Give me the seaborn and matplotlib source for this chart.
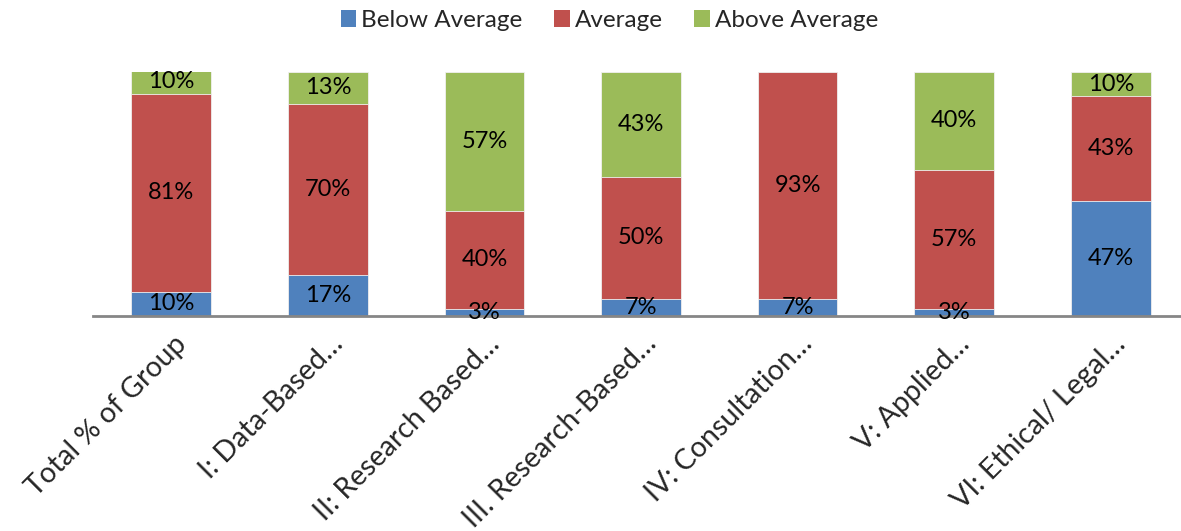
import matplotlib
matplotlib.use("Agg")
import matplotlib.pyplot as plt
from matplotlib.patches import Patch
import matplotlib.transforms as mtransforms
import numpy as np
import pandas as pd
import seaborn as sns

categories = [
    "Total % of Group",
    "I: Data-Based…",
    "II: Research Based…",
    "III. Research-Based…",
    "IV: Consultation…",
    "V: Applied…",
    "VI: Ethical/ Legal…",
]
below_avg = [10, 17, 3, 7, 7, 3, 47]
average = [81, 70, 40, 50, 93, 57, 43]
above_avg = [10, 13, 57, 43, 0, 40, 10]

series_names = ["Below Average", "Average", "Above Average"]
colors = ["#4F81BD", "#C0504D", "#9BBB59"]

sns.set_theme(style="white")
plt.rcParams["font.family"] = ["Lato", "DejaVu Sans"]

df = pd.DataFrame({
    "category": categories,
    "below": below_avg,
    "average": average,
    "above": above_avg,
})
df["cum1"] = df["below"]
df["cum2"] = df["below"] + df["average"]
df["cum3"] = df["cum2"] + df["above"]

fig = plt.figure(figsize=(11.81, 5.31), dpi=100)
W, H = 1181, 531
ax = fig.add_axes([93 / W, 215 / H, (1189 - 93) / W, 244 / H])

# stacked bars drawn back to front as cumulative totals
for col, color in zip(["cum3", "cum2", "cum1"], colors[::-1]):
    sns.barplot(data=df, x="category", y=col, color=color, width=0.51,
                saturation=1, edgecolor="#f0f0f0", linewidth=0.6, ax=ax)

# value labels at the middle of each segment
for i in range(len(categories)):
    base = 0
    for val in (below_avg[i], average[i], above_avg[i]):
        if val > 0:
            ax.text(i, base + val / 2, f"{val}%", ha="center", va="center",
                    fontsize=17, color="black", zorder=5)
        base += val

ax.set_ylim(0, 100)
ax.set_xlim(-0.5, len(categories) - 0.5)
ax.set_xlabel("")
ax.set_ylabel("")
ax.set_yticks([])
for side in ["top", "right", "left"]:
    ax.spines[side].set_visible(False)
ax.spines["bottom"].set_color("#868686")
ax.spines["bottom"].set_linewidth(2)
ax.tick_params(axis="x", length=0, pad=12)
ax.set_xticks(range(len(categories)))
ax.set_xticklabels(categories, rotation=45, ha="right", va="center",
                   rotation_mode="anchor", fontsize=20.5)
shift = mtransforms.ScaledTranslation(11 / 100, -7 / 100, fig.dpi_scale_trans)
for lbl in ax.get_xticklabels():
    lbl.set_transform(lbl.get_transform() + shift)

handles = [Patch(facecolor=c, edgecolor="none") for c in colors]
fig.legend(handles, series_names, loc="upper center", ncol=3, frameon=False,
           fontsize=17.5, handlelength=0.65, handleheight=0.65,
           handletextpad=0.2, columnspacing=1.3,
           bbox_to_anchor=(0.516, 1.0225))

fig.savefig("out.png", dpi=100)
